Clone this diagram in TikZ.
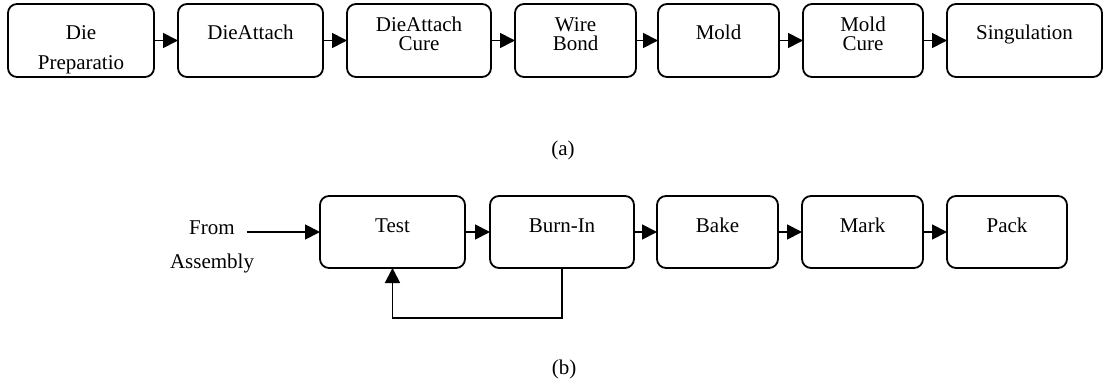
\documentclass[tikz,border=0pt]{standalone}
\usepackage{fontspec}
\setmainfont{Liberation Serif}
\usepackage{tikz}
\usetikzlibrary{arrows.meta,positioning}
\tikzset{
  basic/.style  = {draw, rounded corners=9pt, line width=1.8pt, inner sep=0pt,
                   outer sep=0pt, align=center, font=\fontsize{21}{19}\selectfont},
  stage/.style  = {basic, minimum height=73pt, text height=36pt, text depth=37pt},
  tight/.style  = {basic, minimum height=73pt, text height=47pt, text depth=26pt},
  loose/.style  = {basic, minimum height=73pt, text height=66pt, text depth=7pt},
  test/.style   = {basic, minimum height=72pt, text height=36pt, text depth=36pt},
  plain/.style  = {inner sep=0pt, font=\fontsize{21}{19}\selectfont},
  link/.style   = {->, line width=1.8pt}
}

\begin{document}
\begin{tikzpicture}[x=1pt,y=-1pt,node distance=24pt,>={Triangle[length=15pt,width=15pt]}]
\useasboundingbox (0,0) rectangle (1103,385);

% (a) assembly flow
\node[loose, minimum width=146pt, anchor=north west] (a1) at (8,4) {Die\\[11pt]Preparatio};
\node[stage, minimum width=145pt, right=of a1] (a2) {DieAttach};
\node[tight, minimum width=144pt, right=of a2] (a3) {DieAttach\\Cure};
\node[tight, minimum width=121pt, right=of a3] (a4) {Wire\\Bond};
\node[stage, minimum width=121pt, right=22pt of a4] (a5) {Mold};
\node[tight, minimum width=120pt, right=of a5] (a6) {Mold\\Cure};
\node[stage, minimum width=155pt, right=of a6] (a7) {Singulation};

\foreach \i/\j in {1/2,2/3,3/4,4/5,5/6,6/7}
  \draw[link] (a\i.east) -- (a\j.west);

\node[plain] (capa) at (563,150) {(a)};

% (b) test flow
\node[test, minimum width=145pt, anchor=north west] (b1) at (320,196) {Test};
\node[test, minimum width=144pt, right=25pt of b1] (b2) {Burn-In};
\node[test, minimum width=121pt, right=23pt of b2] (b3) {Bake};
\node[test, minimum width=121pt, right=of b3] (b4) {Mark};
\node[test, minimum width=120pt, right=of b4] (b5) {Pack};

\foreach \i/\j in {1/2,2/3,3/4,4/5}
  \draw[link] (b\i.east) -- (b\j.west);

\node[plain, inner xsep=12pt] (from) at (212,228) {From};
\node[plain] (asm) at (212,263) {Assembly};
\draw[link] (from.east |- b1.west) -- (b1.west);
\draw[link] (b2.south) -- ++(0,50) -| (b1.south);

\node[plain] (capb) at (564,369) {(b)};
\end{tikzpicture}
\end{document}
